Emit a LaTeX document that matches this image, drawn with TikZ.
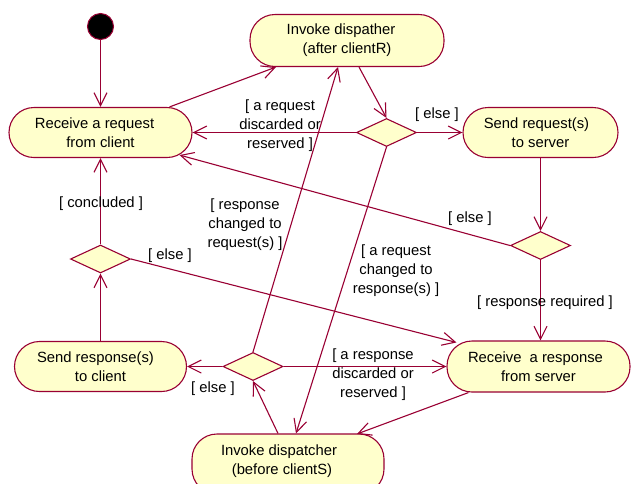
\documentclass[tikz,border=0pt]{standalone}
\usepackage{fontspec}
\setmainfont{Liberation Sans}
\usetikzlibrary{arrows.meta,shapes.geometric}

\definecolor{umlline}{RGB}{153,0,51}
\definecolor{umlfill}{RGB}{255,255,204}

\tikzset{
  activity/.style={draw=umlline, fill=umlfill, line width=1.1pt,
    rounded corners=25pt, inner sep=0pt, align=center,
    font=\fontsize{14.8}{19}\selectfont},
  decision/.style={draw=umlline, fill=umlfill, line width=1.1pt,
    diamond, inner sep=0pt, minimum width=60pt, minimum height=28pt},
  initial/.style={draw=umlline, fill=black, line width=1pt, circle,
    inner sep=0pt, minimum size=26pt},
  flow/.style={draw=umlline, line width=1.1pt,
    -{Straight Barb[length=13pt,width=13pt,line width=1.1pt]}},
  guard/.style={align=center, inner sep=0pt,
    font=\fontsize{14.8}{19}\selectfont}
}

\begin{document}
\begin{tikzpicture}[x=1pt, y=-1pt]
  \useasboundingbox (0,0) rectangle (631,483);

  % initial state
  \node[initial] (start) at (100.5,26.5) {};

  % activities
  \node[activity, minimum width=183pt, minimum height=50pt] (rr) at (100.5,132.5)
    {\hspace*{-12pt}Receive a request\\from client};
  \node[activity, minimum width=194pt, minimum height=52pt] (ida) at (347,40.5)
    {\hspace*{-12pt}Invoke dispather\\(after clientR)};
  \node[activity, minimum width=155pt, minimum height=50pt] (srs) at (540.5,132.5)
    {\hspace*{-8pt}Send request(s)\\to server};
  \node[activity, minimum width=172pt, minimum height=50pt] (src) at (100.5,366.5)
    {\hspace*{-10pt}Send response(s)\\to client};
  \node[activity, minimum width=183pt, minimum height=51pt] (rrs) at (538.5,366.5)
    {\hspace*{-6pt}Receive~ a response\\from server};
  % the lower dispatcher box runs off the bottom edge
  \node[activity, minimum width=192pt, minimum height=60pt] (idb) at (288,464) {};
  \node[guard] (idbtext) at (282,461)
    {\hspace*{-6pt}Invoke dispatcher\\(before clientS)};

  % decisions
  \node[decision] (d1) at (386.5,132.5) {};
  \node[decision] (d2) at (540.5,245.5) {};
  \node[decision] (d3) at (100.5,259) {};
  \node[decision] (d4) at (253,366.5) {};

  % control flows
  \draw[flow] (start) -- (rr);
  \draw[flow] ([xshift=69pt]rr.north) -- ([xshift=-71pt]ida.south);
  \draw[flow] ([xshift=12pt]ida.south) -- (d1.north);
  \draw[flow] (d1.west) -- (rr.east);
  \draw[flow] (d1.east) -- (srs.west);
  \draw[flow] (srs.south) -- (d2.north);
  \draw[flow] (d2.west) -- ([xshift=79pt,yshift=3pt]rr.south);
  \draw[flow] (d2.south) -- ([xshift=2pt]rrs.north);
  \draw[flow] (src.north) -- (d3.south);
  \draw[flow] (d3.north) -- (rr.south);
  \draw[flow] (d3.east) -- ([xshift=10pt,yshift=-2pt]rrs.north west);
  \draw[flow] (d4.west) -- (src.east);
  \draw[flow] (d4.east) -- (rrs.west);
  \draw[flow] (d4.north) -- ([xshift=-9pt]ida.south);
  \draw[flow] (d1.south) -- ([xshift=8pt]idb.north);
  \draw[flow] ([xshift=-10pt]idb.north) -- (d4.south);
  \draw[flow] ([xshift=-70pt]rrs.south) -- ([xshift=69pt,yshift=-0.5pt]idb.north);

  % guards
  \node[guard] (g1) at (280,126) {[ a request\\discarded or\\reserved ]};
  \node[guard] (g2) at (437,115) {[ else ]};
  \node[guard] (g3) at (470,219) {[ else ]};
  \node[guard] (g4) at (101,204) {[ concluded ]};
  \node[guard] (g5) at (245,225) {[ response\\changed to\\request(s) ]};
  \node[guard] (g6) at (170,256) {[ else ]};
  \node[guard] (g7) at (396,271) {[ a request\\changed to\\response(s) ]};
  \node[guard] (g8) at (545,303) {[ response required ]};
  \node[guard] (g9) at (373,375) {[ a response\\discarded or\\reserved ]};
  \node[guard] (g10) at (213,389) {[ else ]};
\end{tikzpicture}
\end{document}
